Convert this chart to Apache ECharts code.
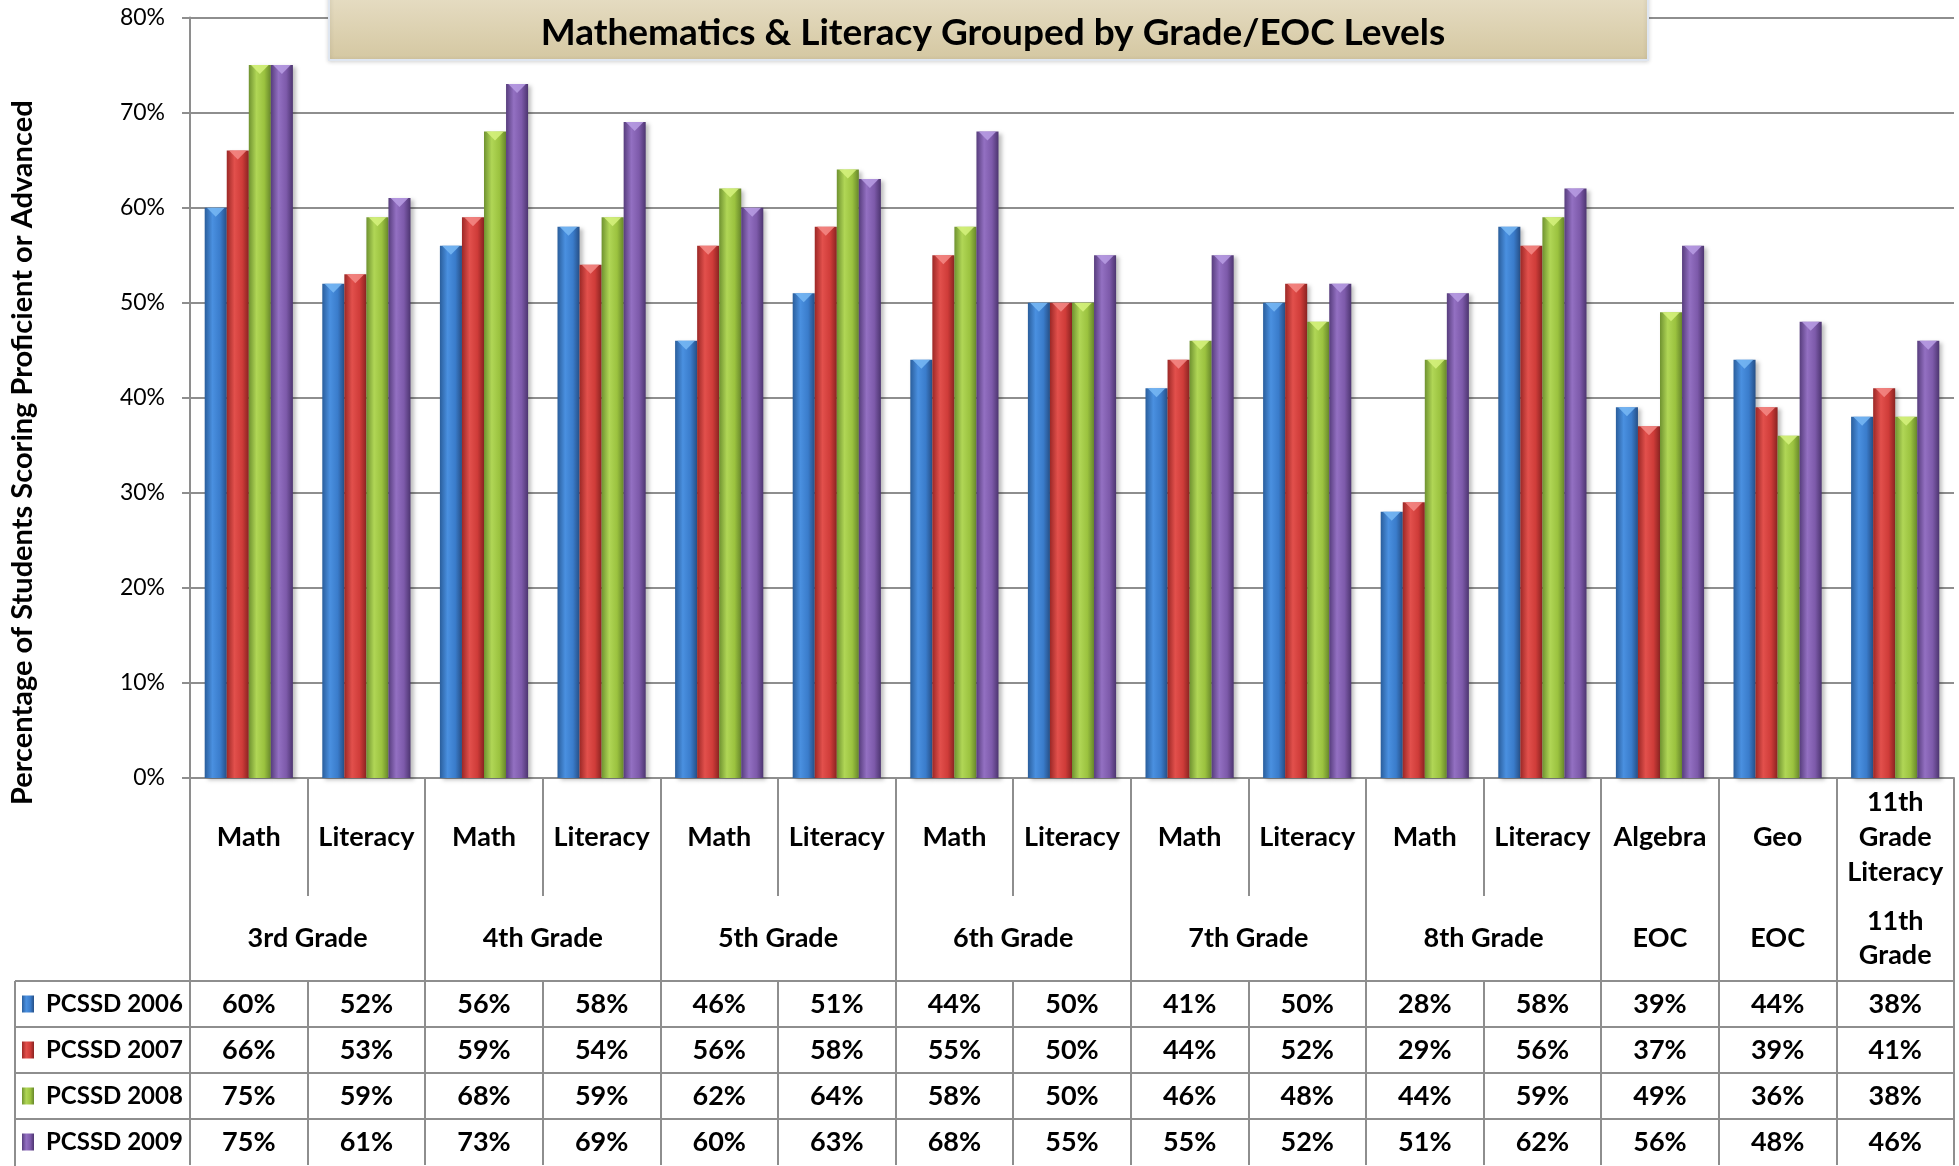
<!DOCTYPE html>
<html><head><meta charset="utf-8">
<script src="https://cdn.jsdelivr.net/npm/echarts@6.0.0/dist/echarts.min.js"></script>
<style>html,body{margin:0;padding:0;background:#fff}#c{width:1959px;height:1166px}</style>
</head><body><div id="c"></div>
<script>
// ---- data ----
const categories = ['Math','Literacy','Math','Literacy','Math','Literacy','Math','Literacy','Math','Literacy','Math','Literacy','Algebra','Geo','11th\nGrade\nLiteracy'];
const groupNames = ['3rd Grade','4th Grade','5th Grade','6th Grade','7th Grade','8th Grade','EOC','EOC','11th\nGrade'];
const groupSpans = [2,2,2,2,2,2,1,1,1];
const seriesNames = ['PCSSD 2006','PCSSD 2007','PCSSD 2008','PCSSD 2009'];
const pcssd2006 = [60,52,56,58,46,51,44,50,41,50,28,58,39,44,38];
const pcssd2007 = [66,53,59,54,56,58,55,50,44,52,29,56,37,39,41];
const pcssd2008 = [75,59,68,59,62,64,58,50,46,48,44,59,49,36,38];
const pcssd2009 = [75,61,73,69,60,63,68,55,55,52,51,62,56,48,46];
const titleText = 'Mathematics & Literacy Grouped by Grade/EOC Levels';
const yAxisName = 'Percentage of Students Scoring Proficient or Advanced';

const seriesValues = [pcssd2006, pcssd2007, pcssd2008, pcssd2009];

// ---- styling ----
const FONT = 'Lato, "Open Sans", sans-serif';
const GRID_COLOR = '#8e8e8e';
const palette = [
  ['#2a5e9c','#4a90e0','#3a7ccb','#264f86'],
  ['#9c2826','#e2504c','#cf3c39','#8a2321'],
  ['#6f9230','#b0d656','#9bc23f','#67872b'],
  ['#573d7d','#9370c2','#7d5aaa','#4d3570']
];
const capColors = ['#78b8f4','#f48a86','#d6f27e','#b89ee4'];
function grad(c){
  return new echarts.graphic.LinearGradient(0,0,1,0,[
    {offset:0,color:c[0]},{offset:0.35,color:c[1]},{offset:0.7,color:c[2]},{offset:1,color:c[3]}
  ]);
}

// group axis built on half-column steps
const halfLabels = new Array(categories.length*2+1).fill('');
const boundaries = new Set();
let start = 0;
groupNames.forEach((g,i)=>{
  boundaries.add(start*2);
  halfLabels[start*2 + groupSpans[i]] = g;
  start += groupSpans[i];
});
boundaries.add(start*2);

const TOP = 17.5, AXIS_Y = 778, LEFT = 190, RIGHT = 1954;
const ROW1 = 118, ROW2 = 85, ROWH = 46;
const dataTop = AXIS_Y + ROW1 + ROW2;

const lineStyle = {color: GRID_COLOR, width: 2};

const xAxes = [
  {
    type:'category', data: categories, position:'bottom', gridIndex:0,
    axisLine:{show:true, lineStyle},
    axisTick:{show:true, interval:0, length:ROW1, lineStyle},
    axisLabel:{interval:0, margin:ROW1/2, verticalAlign:'middle', color:'#000',
      fontFamily:FONT, fontWeight:'bold', fontSize:27, lineHeight:35}
  },
  {
    type:'category', data: halfLabels, boundaryGap:false, position:'bottom', offset:ROW1,
    axisLine:{show:false},
    axisTick:{show:true, interval:(idx)=>boundaries.has(idx), length:ROW2, lineStyle},
    axisLabel:{interval:0, margin:ROW2/2, verticalAlign:'middle', color:'#000',
      fontFamily:FONT, fontWeight:'bold', fontSize:27, lineHeight:34},
    splitLine:{show:false}
  }
];
seriesValues.forEach((vals,i)=>{
  xAxes.push({
    type:'category', data: categories, position:'bottom', offset: ROW1+ROW2+ROWH*i,
    axisLine:{show:true, lineStyle},
    axisTick:{show:true, interval:0, length:ROWH, lineStyle},
    axisLabel:{interval:0, margin:ROWH/2, verticalAlign:'middle', color:'#000',
      fontFamily:FONT, fontWeight:'bold', fontSize:27,
      formatter:(v, idx)=> vals[idx] + '%'}
  });
});

const graphics = [
  {type:'rect', shape:{x:329, y:-40, width:1319, height:100},
   style:{fill:new echarts.graphic.LinearGradient(0,0,0,1,[{offset:0,color:'#f0e9d6'},{offset:1,color:'#d4c7a1'}]),
          stroke:'#dfe6f0', lineWidth:2, shadowBlur:4, shadowColor:'rgba(0,0,0,0.15)', shadowOffsetY:1}, z:10},
  {type:'text', x:993, y:33, z:11,
   style:{text:titleText, fill:'#000', font:'bold 37px '+FONT, align:'center', verticalAlign:'middle'}},
  // legend column borders
  {type:'line', shape:{x1:15, y1:dataTop, x2:15, y2:1166}, style:{stroke:GRID_COLOR, lineWidth:2}}
];
for (let i=0;i<4;i++){
  graphics.push({type:'line', shape:{x1:15, y1:dataTop+ROWH*i, x2:LEFT, y2:dataTop+ROWH*i}, style:{stroke:GRID_COLOR, lineWidth:2}});
}

const barSeries = seriesValues.map((vals,i)=>({
  name: seriesNames[i], type:'bar', data: vals,
  barGap:'0%', barCategoryGap:'25%',
  itemStyle:{color: grad(palette[i]), shadowColor:'rgba(0,0,0,0.25)', shadowBlur:4, shadowOffsetX:3, shadowOffsetY:2}
}));
const capSeries = seriesValues.map((vals,i)=>({
  name: seriesNames[i] + ' cap', type:'pictorialBar', data: vals,
  barGap:'0%', barCategoryGap:'25%',
  symbol:'path://M0,0 L10,0 L5,5 Z', symbolPosition:'end', symbolSize:['80%', 9],
  symbolOffset:[0, 0], z:5, silent:true, legendHoverLink:false,
  itemStyle:{color: capColors[i], opacity:0.85}
}));

const option = {
  backgroundColor:'#fff',
  animation:false,
  grid:{left:LEFT, right:1959-RIGHT, top:TOP, bottom:1166-AXIS_Y, containLabel:false, outerBoundsMode:'none'},
  legend:{
    orient:'vertical', left:22, top:dataTop+ (ROWH-24)/2, itemGap:ROWH-24, padding:0,
    itemWidth:12, itemHeight:17, icon:'rect',
    textStyle:{fontFamily:FONT, fontWeight:'bold', fontSize:24, color:'#000', lineHeight:24, padding:[0,0,0,7]},
    data: seriesNames
  },
  xAxis: xAxes,
  yAxis:{
    type:'value', min:0, max:80, interval:10,
    axisLine:{show:true, lineStyle},
    axisTick:{show:true, length:8, lineStyle},
    axisLabel:{formatter:'{value}%', color:'#000', fontFamily:FONT, fontSize:23, margin:25},
    splitLine:{show:true, lineStyle:{color:GRID_COLOR, width:2}},
    name: yAxisName, nameLocation:'middle', nameGap:153, nameRotate:90,
    nameTextStyle:{fontFamily:FONT, fontWeight:'bold', fontSize:29, color:'#000', padding:[0,110,0,0]}
  },
  series: barSeries.concat(capSeries),
  graphic: graphics
};

const chart = echarts.init(document.getElementById('c'), null, {renderer:'canvas'});
chart.setOption(option);
</script>
</body></html>
